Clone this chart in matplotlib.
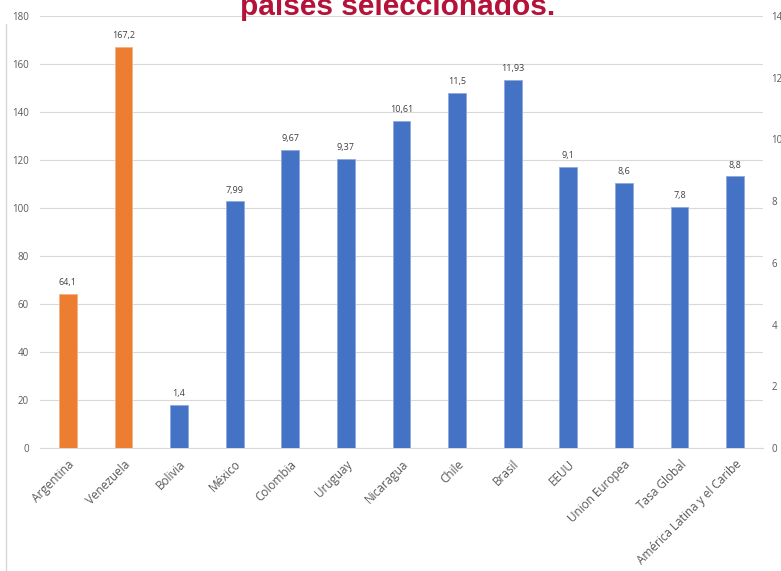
import matplotlib
matplotlib.use("Agg")
import matplotlib.pyplot as plt
from matplotlib.lines import Line2D

plt.rcParams["font.family"] = ["Open Sans", "DejaVu Sans"]

paises = ["Argentina", "Venezuela", "Bolivia", "México", "Colombia", "Uruguay",
          "Nicaragua", "Chile", "Brasil", "EEUU", "Union Europea", "Tasa Global",
          "América Latina y el Caribe"]
# primeras dos en eje izquierdo, el resto en eje derecho
izq_valores = [64.1, 167.2]
der_valores = [1.4, 7.99, 9.67, 9.37, 10.61, 11.5, 11.93, 9.1, 8.6, 7.8, 8.8]
izq_etiquetas = ["64,1", "167,2"]
der_etiquetas = ["1,4", "7,99", "9,67", "9,37", "10,61", "11,5", "11,93",
                 "9,1", "8,6", "7,8", "8,8"]

naranja = "#ED7D31"
azul = "#4472C4"
gris = "#595959"

fig = plt.figure(figsize=(7.81, 5.71), dpi=100)
ax = fig.add_axes([40/781, 1 - 448/571, 723/781, 432/571])
ax2 = ax.twinx()

x = list(range(len(paises)))
xi = x[:2]
xd = x[2:]
ancho = 0.32

ax.bar(xi, izq_valores, width=ancho, color=naranja, edgecolor="#F4B183", linewidth=0.6, zorder=3)
ax2.bar(xd, der_valores, width=ancho, color=azul, edgecolor="#8FAADC", linewidth=0.6, zorder=3)

for xx, v, t in zip(xi, izq_valores, izq_etiquetas):
    ax.annotate(t, (xx, v), xytext=(0, 5), textcoords="offset points",
                ha="center", va="bottom", fontsize=6.5, color="#404040")
for xx, v, t in zip(xd, der_valores, der_etiquetas):
    ax2.annotate(t, (xx, v), xytext=(0, 5), textcoords="offset points",
                 ha="center", va="bottom", fontsize=6.5, color="#404040")

ax.set_xlim(-0.5, len(paises) - 0.5)
ax.set_ylim(0, 180)
ax2.set_ylim(0, 14)
ax.set_yticks(range(0, 181, 20))
ax2.set_yticks(range(0, 15, 2))

ax.grid(axis="y", color="#D9D9D9", linewidth=0.8, zorder=0)
ax.set_axisbelow(True)

for a in (ax, ax2):
    for s in a.spines.values():
        s.set_visible(False)
ax.spines["bottom"].set_visible(True)
ax.spines["bottom"].set_color("#D9D9D9")
ax.spines["bottom"].set_linewidth(0.8)

ax.tick_params(axis="y", length=0, pad=8, labelsize=7, labelcolor=gris)
ax2.tick_params(axis="y", length=0, pad=6, labelsize=7, labelcolor=gris)
ax.set_xticks(x)
ax.set_xticklabels(paises, rotation=45, ha="right", rotation_mode="anchor",
                   fontsize=8.5, color=gris)
ax.tick_params(axis="x", length=0, pad=7)

# borde del gráfico a la izquierda
fig.add_artist(Line2D([6/781, 6/781], [0, 1 - 24/571], transform=fig.transFigure,
                      color="#D9D9D9", linewidth=1))

fig.text(0.509, 1 - 15/571, "países seleccionados.", ha="center", va="baseline",
         fontsize=21.5, fontweight="bold", color="#B5123A",
         family=["Liberation Sans", "DejaVu Sans"])

plt.savefig("out.png", dpi=100)
